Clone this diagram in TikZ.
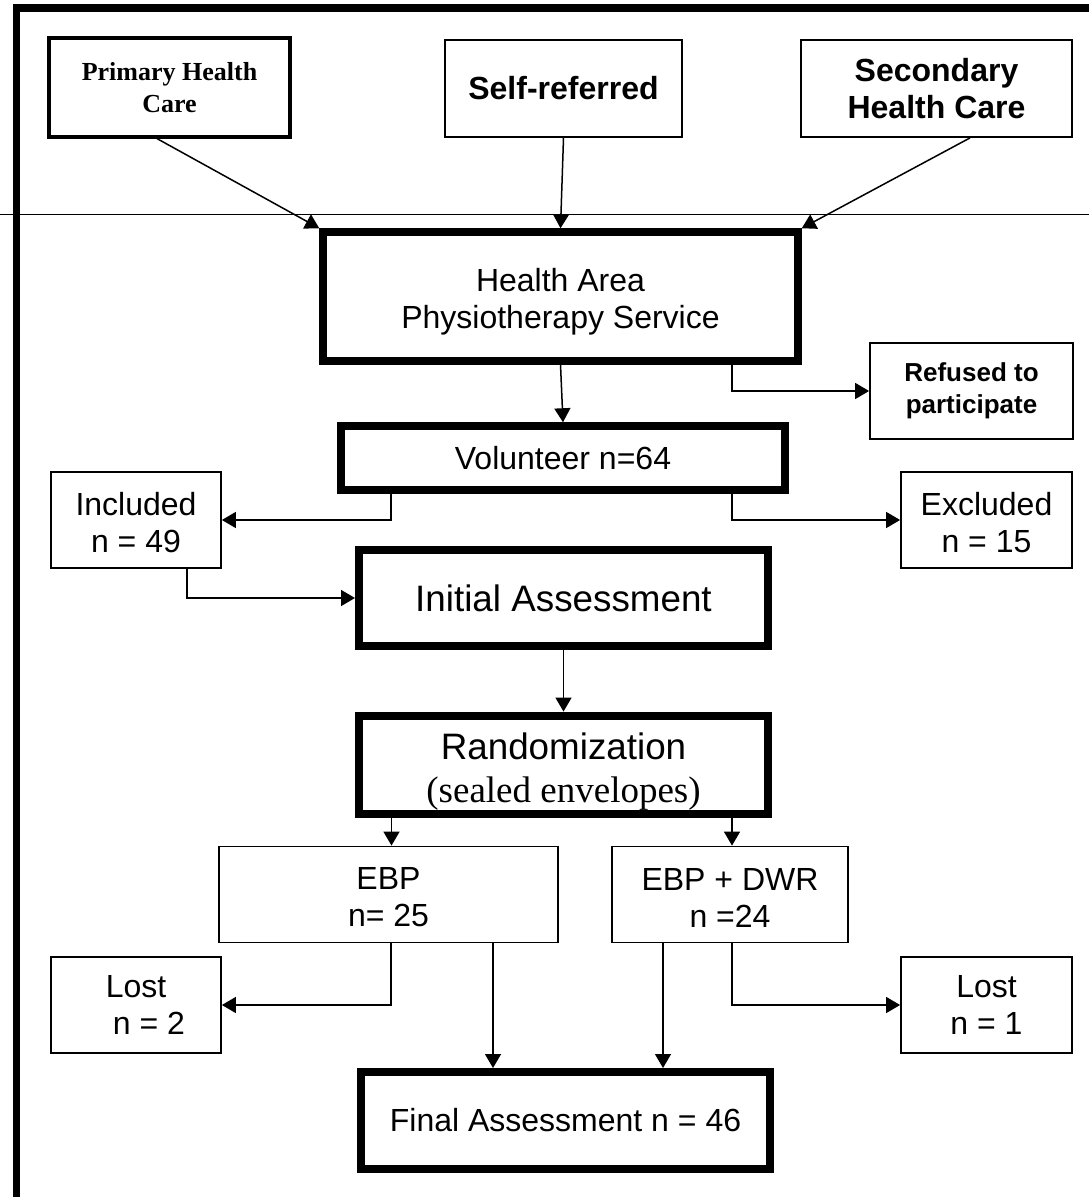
\documentclass[tikz,border=0pt]{standalone}
\usepackage{fontspec}
\setmainfont{Liberation Sans}
\newfontfamily\timesf{Liberation Serif}
\usetikzlibrary{calc,arrows.meta}
\begin{document}
\begin{tikzpicture}[x=0.5pt,y=-0.5pt,
  box/.style={draw,fill=white,line width=0.9pt,inner sep=2pt,align=center,
    font=\fontsize{16}{18.5}\selectfont},
  thickbox/.style={box,line width=3.75pt},
  arr/.style={line width=0.75pt,-{Triangle[length=7pt,width=8pt]}},
  frameline/.style={line width=3.7pt,line join=miter}]
\useasboundingbox (0,0) rectangle (1089,1197);
% frame
\draw[frameline] (16.5,1197) -- (16.5,8) -- (1089,8);
\draw[line width=0.75pt] (0,214.5) -- (1089,214.5);
% top sources
\node[box,line width=1.6pt,minimum width=120.5pt,minimum height=49.5pt,
  font=\timesf\bfseries\fontsize{13}{16}\selectfont] (prim) at (169.5,87.5) {Primary Health\\Care};
\node[box,minimum width=118.5pt,minimum height=48.5pt,
  font=\bfseries\fontsize{16}{18.5}\selectfont] (self) at (563.5,88.5) {Self-referred};
\node[box,minimum width=135.5pt,minimum height=48.5pt,
  font=\bfseries\fontsize{16}{18.5}\selectfont] (sec) at (936.5,88.5) {Secondary\\Health Care};
% main flow
\node[thickbox,minimum width=237.5pt,minimum height=64.5pt] (ha) at (560.5,296.5) {\rule{0pt}{16.5pt}Health Area\\Physiotherapy Service};
\node[box,minimum width=101.5pt,minimum height=48pt,
  font=\bfseries\fontsize{13}{16}\selectfont] (ref) at (971.5,391) {Refused to\\participate};
\node[thickbox,minimum width=222pt,minimum height=32pt] (vol) at (563,458) {Volunteer n=64};
\node[box,minimum width=85pt,minimum height=48pt] (inc) at (136,520) {\rule{0pt}{14pt}Included\\n = 49};
\node[box,minimum width=85.5pt,minimum height=48pt] (exc) at (986.5,520) {\rule{0pt}{14pt}Excluded\\n = 15};
\node[thickbox,line width=4pt,minimum width=204.5pt,minimum height=48pt,
  font=\fontsize{18.4}{22}\selectfont] (ia) at (563.5,598) {Initial Assessment};
\node[thickbox,line width=4pt,minimum width=204.5pt,minimum height=48pt,
  font=\fontsize{18.4}{22.5}\selectfont] (rnd) at (563.5,765)
  {\rule{0pt}{20pt}Randomization\\[-1pt]{\timesf\fontsize{18.5}{22.5}\selectfont (sealed envelopes)}};
\node[box,minimum width=169.5pt,minimum height=48pt] (ebp) at (388.5,894.5) {\rule{0pt}{14pt}EBP\\n= 25};
\node[box,minimum width=118pt,minimum height=48pt] (dwr) at (730,894.5) {\rule{0pt}{14pt}EBP + DWR\\n =24};
\node[box,minimum width=85pt,minimum height=48pt] (lostl) at (136,1005) {Lost\\\hspace*{13pt}n = 2};
\node[box,minimum width=85.5pt,minimum height=48pt] (lostr) at (986.5,1005) {Lost\\n = 1};
\node[thickbox,line width=4pt,minimum width=204.5pt,minimum height=48.5pt] (fin) at (565.5,1120.5) {Final Assessment n = 46};
% helper coordinates
\coordinate (p1) at ($(prim.south)+(-12.5,0)$);
\coordinate (s1) at ($(sec.south)+(33.5,0)$);
\coordinate (h1) at ($(ha.south)+(171.5,0)$);
\coordinate (v1) at ($(vol.south)+(-172,0)$);
\coordinate (v2) at ($(vol.south)+(169,0)$);
\coordinate (i1) at ($(inc.south)+(51,0)$);
\coordinate (r1) at ($(rnd.south)+(-172,0)$);
\coordinate (r2) at ($(rnd.south)+(168.5,0)$);
\coordinate (e1) at ($(ebp.south)+(2.5,0)$);
\coordinate (e2) at ($(ebp.south)+(104.5,0)$);
\coordinate (d1) at ($(dwr.south)+(-67,0)$);
\coordinate (d2) at ($(dwr.south)+(2,0)$);
% connectors
\draw[arr] (p1) -- (ha.north west);
\draw[arr] (self.south) -- (ha.north);
\draw[arr] (s1) -- (ha.north east);
\draw[arr] (ha.south) -- (vol.north);
\draw[arr] (h1) |- (ref.west);
\draw[arr] (v1) |- (inc.east);
\draw[arr] (v2) |- (exc.west);
\draw[arr] (i1) |- (ia.west);
\draw[arr] (ia.south) -- (rnd.north);
\draw[arr] (r1) -- (r1 |- ebp.north);
\draw[arr] (r2) -- (r2 |- dwr.north);
\draw[arr] (e1) |- (lostl.east);
\draw[arr] (e2) -- (e2 |- fin.north);
\draw[arr] (d1) -- (d1 |- fin.north);
\draw[arr] (d2) |- (lostr.west);
\end{tikzpicture}
\end{document}
